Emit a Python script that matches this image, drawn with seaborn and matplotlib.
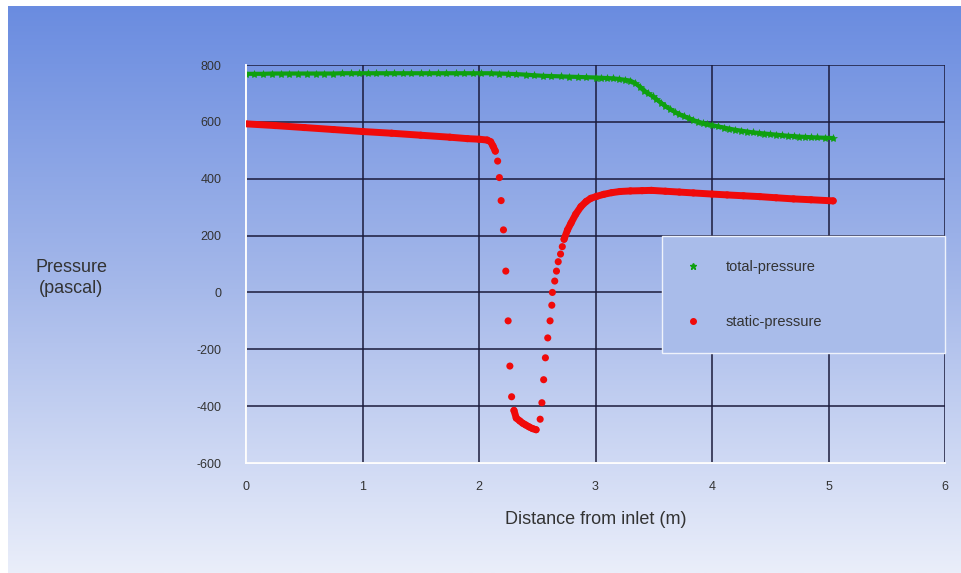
import numpy as np
import pandas as pd
import matplotlib
matplotlib.use("Agg")
import matplotlib.pyplot as plt
import seaborn as sns
from matplotlib.ticker import MultipleLocator
from matplotlib.lines import Line2D
from matplotlib.colors import LinearSegmentedColormap

# ---------------- data ----------------
total_x = [0.00, 0.07, 0.15, 0.22, 0.30, 0.37, 0.45, 0.52, 0.60, 0.67, 0.75,
           0.82, 0.90, 0.97, 1.05, 1.12, 1.20, 1.27, 1.35, 1.42, 1.50, 1.57,
           1.65, 1.72, 1.80, 1.87, 1.95, 2.02, 2.10, 2.17, 2.25, 2.32, 2.40,
           2.47, 2.55, 2.62, 2.70, 2.77, 2.85, 2.92, 3.00, 3.05, 3.10, 3.15,
           3.20, 3.25, 3.30, 3.34, 3.38, 3.42, 3.45, 3.49, 3.52, 3.56, 3.60,
           3.64, 3.68, 3.72, 3.76, 3.80, 3.84, 3.88, 3.92, 3.96, 4.00, 4.05,
           4.10, 4.15, 4.20, 4.25, 4.30, 4.35, 4.40, 4.45, 4.50, 4.55, 4.60,
           4.65, 4.70, 4.75, 4.80, 4.85, 4.90, 4.97, 5.04]
total_p = [769, 769, 769, 770, 770, 770, 770, 770, 770, 770, 770,
           771, 771, 771, 771, 771, 771, 771, 771, 771, 771, 771,
           771, 771, 771, 771, 771, 771, 771, 770, 769, 768, 766,
           764, 762, 761, 760, 759, 758, 757, 756, 755, 754, 753,
           751, 748, 745, 736, 724, 710, 700, 690, 680, 668, 655,
           645, 635, 627, 620, 613, 606, 601, 596, 592, 589, 584,
           580, 576, 572, 569, 566, 563, 561, 559, 557, 555, 553,
           551, 550, 548, 547, 546, 545, 544, 543]

static_x = [0.00, 0.25, 0.50, 0.75, 1.00, 1.25, 1.50, 1.75, 1.90, 2.00, 2.07,
            2.10, 2.12, 2.14,
            2.16, 2.175, 2.19, 2.21, 2.23, 2.25, 2.265, 2.28,
            2.30, 2.32, 2.35, 2.375, 2.40, 2.43, 2.46, 2.49,
            2.525, 2.54, 2.555, 2.57, 2.59, 2.61, 2.625, 2.63, 2.65, 2.665,
            2.68, 2.70, 2.715,
            2.73, 2.76, 2.79, 2.83, 2.875, 2.92, 2.96, 3.01, 3.07, 3.14,
            3.21, 3.30, 3.40, 3.48, 3.60, 3.72, 3.84, 4.00, 4.13, 4.27,
            4.41, 4.55, 4.70, 4.85, 5.04]
static_p = [593, 587, 580, 573, 566, 560, 553, 546, 541, 539, 536,
            530, 515, 497,
            462, 404, 323, 220, 75, -100, -259, -367,
            -415, -442, -452, -460, -466, -473, -479, -483,
            -446, -388, -307, -230, -160, -100, -45, 0, 40, 75,
            108, 135, 161,
            187, 220, 244, 275, 302, 320, 331, 338, 345, 351,
            355, 357, 358, 359, 356, 353, 350, 346, 343, 340,
            337, 333, 329, 326, 322]
# sampling groups: dense runs of cells share a group, isolated cells stand alone
static_seg = [0] * 14 + list(range(1, 9)) + [9] * 8 + list(range(10, 23)) + [23] * 25

series_labels = ["total-pressure", "static-pressure"]
x_ticks = [0, 1, 2, 3, 4, 5, 6]
y_ticks = [-600, -400, -200, 0, 200, 400, 600, 800]

GREEN = "#0fa00f"
RED = "#f00a0a"
TEXT = "#333333"

# ---------------- style ----------------
sns.set_style("white")
plt.rcParams["font.family"] = ["Liberation Sans Narrow", "Liberation Sans", "DejaVu Sans"]
plt.rcParams["axes.unicode_minus"] = False

fig = plt.figure(figsize=(9.61, 5.73), dpi=100)
fig.patch.set_facecolor("white")

# gradient background
bg = fig.add_axes([8 / 961, 0, 1 - 8 / 961, 1 - 6 / 573])
grad = np.linspace(0, 1, 256).reshape(-1, 1)
cmap = LinearSegmentedColormap.from_list(
    "bg", [(0, "#6a8ce0"), (0.5, "#a6b9ea"), (1, "#eaeefa")])
bg.imshow(grad, aspect="auto", cmap=cmap, extent=[0, 1, 0, 1], origin="upper")
bg.axis("off")
bg.set_zorder(-10)

ax = fig.add_axes([246 / 961, 110 / 573, 699 / 961, 398 / 573])
ax.patch.set_alpha(0)

df_total = pd.DataFrame({"x": total_x, "p": total_p})
df_static = pd.DataFrame({"x": static_x, "p": static_p, "seg": static_seg})

sns.lineplot(data=df_total, x="x", y="p", ax=ax, color=GREEN, linewidth=3.0,
             marker="*", markersize=6, markeredgecolor=GREEN, markeredgewidth=0.4,
             estimator=None, sort=False, legend=False)
sns.lineplot(data=df_static, x="x", y="p", units="seg", estimator=None, sort=False,
             ax=ax, color=RED, linewidth=5, solid_capstyle="round", legend=False)
sns.scatterplot(data=df_static, x="x", y="p", ax=ax, color=RED, s=26,
                edgecolor="none", legend=False, zorder=3)

ax.set_xlim(0, 6)
ax.set_ylim(-600, 800)
ax.set_xticks(x_ticks)
ax.set_yticks(y_ticks)
ax.xaxis.set_minor_locator(MultipleLocator(0.25))
ax.yaxis.set_minor_locator(MultipleLocator(100))

ax.set_axisbelow(True)
ax.grid(True, which="major", color="#1b1b3b", linewidth=1.1)
ax.grid(False, which="minor")
for s in ["top", "right"]:
    ax.spines[s].set_visible(False)
for s in ["left", "bottom"]:
    ax.spines[s].set_color("white")
    ax.spines[s].set_linewidth(1.4)

ax.tick_params(axis="y", which="major", length=9.5, width=1.1, color="white",
               pad=8, labelsize=9, labelcolor=TEXT, direction="out")
ax.tick_params(axis="y", which="minor", length=4, width=1.1, color="white", direction="out")
ax.tick_params(axis="x", which="major", length=3, width=1.1, color="white",
               pad=10, labelsize=9, labelcolor=TEXT, direction="out")
ax.tick_params(axis="x", which="minor", length=3, width=1.1, color="white", direction="out")

ax.set_xlabel("Distance from inlet (m)", fontsize=13, color=TEXT, va="center")
ax.xaxis.set_label_coords(0.5, -0.141)
ax.set_ylabel("Pressure\n(pascal)", fontsize=13, color=TEXT, rotation=0,
              ha="center", va="center", linespacing=1.3)
ax.yaxis.set_label_coords(-0.250, 0.465)

handles = [
    Line2D([], [], ls="none", marker="*", color=GREEN, markersize=5),
    Line2D([], [], ls="none", marker="o", color=RED, markersize=4),
]
leg = ax.legend(handles, series_labels, loc="upper left",
                bbox_to_anchor=(0.595, 0.281, 0.405, 0.289), mode="expand",
                borderaxespad=0, borderpad=1.65, labelspacing=2.8,
                handlelength=1.0, handletextpad=1.7, fontsize=10.5,
                frameon=True, fancybox=False, framealpha=1,
                facecolor="#a9bcea", edgecolor="#eef2fb")
leg.get_frame().set_linewidth(1.0)
for t in leg.get_texts():
    t.set_color(TEXT)

fig.savefig("out.png", dpi=100)
